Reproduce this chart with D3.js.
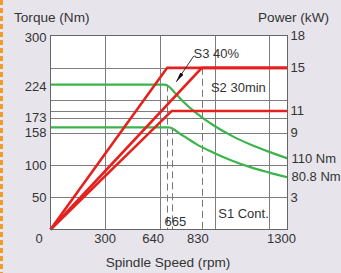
<!DOCTYPE html>
<html>
<head>
<meta charset="utf-8">
<script src="https://cdn.jsdelivr.net/npm/d3@7"></script>
<style>
  html, body { margin: 0; padding: 0; background: #e7e5eb; }
  svg { display: block; font-family: "Liberation Sans", Arial, sans-serif; }
</style>
</head>
<body>
<svg id="chart" width="341" height="273"></svg>
<script>
// axis ticks and grid
const speedTicks = [0, 300, 640, 830, 1300];
const speedGrid = [300, 600, 900, 1200];
const torqueTicks = [300, 224, 173, 158, 100, 50];
const torqueGrid = [50, 100, 150, 173, 200, 250];
const powerTicks = [18, 15, 11, 9, 3];
const powerGrid = [11];

// corner speeds (dashed) and the level where each dash starts (Nm)
const cornerSpeeds = [640, 665, 830];
const cornerTorque = [224, 158, 250];

// power curves [rpm, kW]
const s3Power = [[0, 0], [640, 15], [1300, 15]];
const s2Power = [[0, 0], [830, 15], [1300, 15]];
const s1Power = [[0, 0], [665, 11], [1300, 11]];

// torque curves [rpm, Nm]
const s3Torque = [[0, 224], [625, 224], [650, 221], [680, 212], [720, 200], [800, 180],
  [900, 160], [1000, 144], [1100, 131], [1200, 120], [1300, 110]];
const s1Torque = [[0, 158], [650, 158], [675, 155], [700, 150], [750, 141], [800, 132],
  [900, 118], [1000, 106], [1100, 96], [1200, 88], [1300, 80.8]];

const svg = d3.select('#chart');
const plot = { left: 50.5, right: 287.5, top: 35.5, bottom: 229.5 };

const x = d3.scaleLinear().domain([0, 1300]).range([plot.left, plot.right]);
const yT = d3.scaleLinear().domain([0, 300]).range([plot.bottom, plot.top]);
const yP = d3.scaleLinear().domain([0, 18]).range([plot.bottom, plot.top]);

const textColor = '#333';
const red = '#e5211d';
const green = '#3cb44b';

// orange dashed strip on the left
svg.append('line')
  .attr('x1', 1.5).attr('x2', 1.5).attr('y1', 0).attr('y2', 273)
  .attr('stroke', '#f59a2c').attr('stroke-width', 3)
  .attr('stroke-dasharray', '5,3');

svg.append('rect')
  .attr('x', plot.left).attr('y', plot.top)
  .attr('width', plot.right - plot.left).attr('height', plot.bottom - plot.top)
  .attr('fill', '#fff');

const grid = svg.append('g').attr('stroke', '#7d7d7d').attr('stroke-width', 1);
grid.selectAll('.hg').data(torqueGrid).enter().append('line')
  .attr('x1', plot.left).attr('x2', plot.right)
  .attr('y1', d => Math.round(yT(d)) + 0.5).attr('y2', d => Math.round(yT(d)) + 0.5);
grid.selectAll('.pg').data(powerGrid).enter().append('line')
  .attr('x1', plot.left).attr('x2', plot.right)
  .attr('y1', d => Math.round(yP(d)) + 0.5).attr('y2', d => Math.round(yP(d)) + 0.5);
grid.selectAll('.vg').data(speedGrid).enter().append('line')
  .attr('y1', plot.top).attr('y2', plot.bottom)
  .attr('x1', d => Math.round(x(d)) + 0.5).attr('x2', d => Math.round(x(d)) + 0.5);

// dashed corner lines
svg.selectAll('.dash').data(cornerSpeeds).enter().append('line')
  .attr('x1', d => Math.round(x(d)) + 0.5).attr('x2', d => Math.round(x(d)) + 0.5)
  .attr('y1', (d, i) => yT(cornerTorque[i])).attr('y2', plot.bottom)
  .attr('stroke', '#777').attr('stroke-width', 1)
  .attr('stroke-dasharray', '7,4');

const torqueLine = d3.line().x(d => x(d[0])).y(d => yT(d[1])).curve(d3.curveMonotoneX);
const powerLine = d3.line().x(d => x(d[0])).y(d => yP(d[1]));

svg.selectAll('.tq').data([s3Torque, s1Torque]).enter().append('path')
  .attr('d', torqueLine).attr('fill', 'none')
  .attr('stroke', green).attr('stroke-width', 2.2);

svg.selectAll('.pw').data([s1Power, s2Power, s3Power]).enter().append('path')
  .attr('d', powerLine).attr('fill', 'none')
  .attr('stroke', red).attr('stroke-width', 2.6)
  .attr('stroke-linejoin', 'miter');

svg.append('rect')
  .attr('x', plot.left).attr('y', plot.top)
  .attr('width', plot.right - plot.left).attr('height', plot.bottom - plot.top)
  .attr('fill', 'none').attr('stroke', '#666').attr('stroke-width', 1);

// arrow for S3 label
svg.append('defs').append('marker')
  .attr('id', 'head').attr('viewBox', '0 0 10 4')
  .attr('refX', 10).attr('refY', 2)
  .attr('markerWidth', 10).attr('markerHeight', 4)
  .attr('markerUnits', 'userSpaceOnUse')
  .attr('orient', 'auto')
  .append('path').attr('d', 'M0,0 L10,2 L0,4 Z').attr('fill', '#111');
svg.append('line')
  .attr('x1', x(786)).attr('y1', yP(16.1))
  .attr('x2', x(690)).attr('y2', yP(13.7))
  .attr('stroke', '#333').attr('stroke-width', 1)
  .attr('marker-end', 'url(#head)');

const label = (txt, px, py, anchor, size) => svg.append('text')
  .attr('x', px).attr('y', py)
  .attr('text-anchor', anchor || 'start')
  .attr('font-size', size || 13)
  .attr('fill', textColor)
  .text(txt);

// left ticks
const leftShift = { 300: 2, 224: 2, 173: 0, 158: 5, 100: 1, 50: 0 };
torqueTicks.forEach(t => label(t, 46.5, yT(t) + 4.5 + leftShift[t], 'end'));
label('0', 39, 243, 'middle');

// right ticks
powerTicks.forEach(p => label(p, 290.5, yP(p) + 4.5));

// bottom ticks
const bottomShift = { 0: 0, 300: 0, 640: -14, 830: -4, 1300: -6 };
speedTicks.filter(s => s > 0).forEach(s => label(s, x(s) + bottomShift[s], 243, 'middle'));

label('Torque (Nm)', 14, 21.5, 'start', 13.6);
label('Power (kW)', 258, 21.5, 'start', 13.6);
label('Spindle Speed (rpm)', 168, 267, 'middle', 13.6);

label('S3 40%', x(785), yP(15.9), 'start');
label('S2 30min', x(880), yP(12.8), 'start');
label('S1 Cont.', x(920), yP(1.1), 'start');
label('665', x(625), yP(0.35), 'start');
label('110 Nm', 291.5, yT(110) + 4.5);
label('80.8 Nm', 291.5, yT(80.8) + 4);
</script>
</body>
</html>
